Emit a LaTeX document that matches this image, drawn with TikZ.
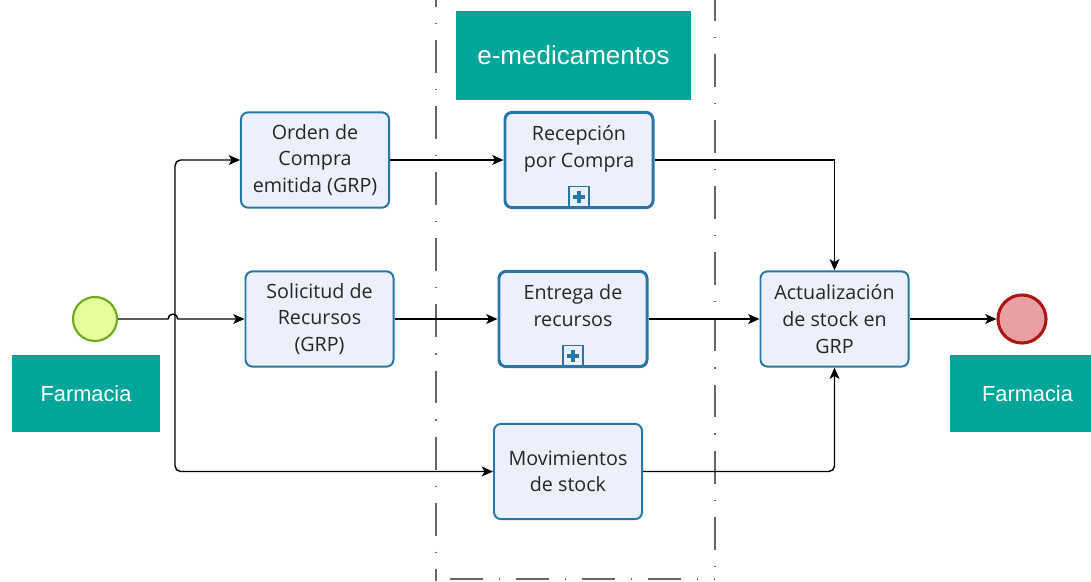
\documentclass[tikz,border=0pt]{standalone}
\usepackage{fontspec}
\setmainfont{Open Sans}
\newfontfamily\lanefont{Liberation Sans}
\usetikzlibrary{arrows.meta}
\definecolor{lanecol}{RGB}{0,166,153}
\definecolor{taskfill}{RGB}{236,240,252}
\definecolor{taskline}{RGB}{40,118,168}
\definecolor{startfill}{RGB}{230,253,155}
\definecolor{startline}{RGB}{108,170,32}
\definecolor{endfill}{RGB}{232,160,162}
\definecolor{endline}{RGB}{172,22,22}
\tikzset{
  task/.style={draw=taskline, fill=taskfill, line width=1.4pt, rounded corners=5pt,
    minimum width=3.7cm, minimum height=2.38cm, align=center, text=black!85,
    font=\fontsize{14}{19}\selectfont},
  subproc/.style={task, line width=2.1pt, text depth=19pt,
    path picture={
      \draw[taskline, line width=1.1pt, sharp corners] ([xshift=-0.25cm]path picture bounding box.south)
        rectangle ++(20,-21);
      \draw[taskline, line width=2.6pt, sharp corners] ([yshift=0.27cm]path picture bounding box.south)
        ++(-6,0) -- ++(12,0) ++(-6,-6) -- ++(0,12);}},
  lane/.style={fill=lanecol, text=white, font=\lanefont\fontsize{15.5}{18}\selectfont},
  flow/.style={line width=1pt, -{Stealth[length=8pt,width=7pt,inset=2pt]}},
  sep/.style={draw=black!60, line width=1.1pt,
    dash pattern=on 23.4pt off 11.4pt on 0.8pt off 11.4pt}
}
\begin{document}
\begin{tikzpicture}[x=0.025cm,y=-0.025cm]
  \useasboundingbox (0,0) rectangle (1091,581);
  % lane separators
  \draw[sep] (436,-26) -- (436,581);
  \draw[sep] (715,-12) -- (715,581);
  \draw[sep, line width=2pt] (450,579) -- (715,579);

  \node[lane, minimum width=3.7cm, minimum height=1.93cm] (farmL) at (86,393.5) {Farmacia};
  \node[lane, minimum width=3.88cm, minimum height=1.93cm] (farmR) at (1027.5,393.5) {Farmacia};
  \node[lane, minimum width=5.88cm, minimum height=2.23cm,
        font=\lanefont\fontsize{18.5}{22}\selectfont] (emed) at (573.5,55.5) {e-medicamentos};

  \node[circle, draw=startline, fill=startfill, line width=1.5pt, minimum size=1.1cm] (start) at (95,319) {};
  \node[circle, draw=endline, fill=endfill, line width=2.2pt, minimum size=1.2cm] (fin) at (1022,319) {};

  \node[task] (orden) at (315,160) {Orden de\\Compra\\emitida (GRP)};
  \node[task] (solic) at (319.5,319) {Solicitud de\\Recursos\\(GRP)};
  \node[subproc] (recep) at (579,160) {Recepción\\por Compra};
  \node[subproc] (entrega) at (573,319) {Entrega de\\recursos};
  \node[task] (movim) at (568,471.5) {Movimientos\\de stock};
  \node[task] (actual) at (834.5,319) {Actualización\\de stock en\\GRP};

  \coordinate (fork) at (175,319);
  \draw[flow] (start) -- ([xshift=-5]fork) arc[start angle=180, end angle=0, radius=3.5pt] -- (solic);
  \draw[flow, rounded corners=4pt] (fork) |- (orden);
  \draw[flow, rounded corners=4pt] (fork) |- (movim);
  \draw[flow] (orden) -- (recep);
  \draw[flow] (solic) -- (entrega);
  \draw[flow] (recep) -| (actual);
  \draw[flow] (entrega) -- (actual);
  \draw[flow, rounded corners=4pt] (movim) -| (actual);
  \draw[flow] (actual) -- (fin);
\end{tikzpicture}
\end{document}
